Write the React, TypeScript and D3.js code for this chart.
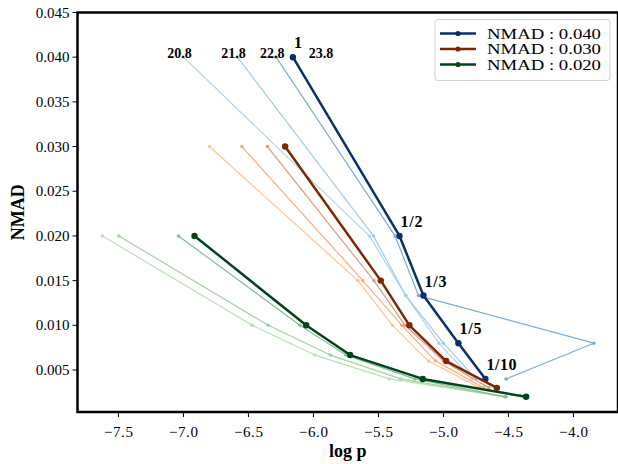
import React from 'react';
import * as d3 from 'd3';

const W = 618;
const H = 464;

// axis ticks
const xTicks = [-7.5, -7.0, -6.5, -6.0, -5.5, -5.0, -4.5, -4.0];
const yTicks = [0.005, 0.01, 0.015, 0.02, 0.025, 0.03, 0.035, 0.04, 0.045];

// ratio labels for the main blue line
const ratioLabels = ['1', '1/2', '1/3', '1/5', '1/10'];
// labels of the top points of blue lines
const topLabels = ['20.8', '21.8', '22.8', '23.8'];

// NMAD 0.040 (blue)
const blueY = [0.04, 0.02, 0.01333, 0.008, 0.004];
const blueX0 = [-7.0, -5.57, -5.29, -5.035, -4.78];
const blueX1 = [-6.585, -5.538, -5.29, -5.0, -4.75];
const blueX2 = [-6.287, -5.372, -5.192, -3.843, -4.518];
const blueX3 = [-6.158, -5.338, -5.154, -4.885, -4.677];

// NMAD 0.030 (orange)
const orangeY = [0.03, 0.015, 0.01, 0.006, 0.003];
const orangeX0 = [-6.8, -5.658, -5.392, -5.115, -4.72];
const orangeX1 = [-6.551, -5.62, -5.32, -5.06, -4.69];
const orangeX2 = [-6.354, -5.535, -5.295, -5.0, -4.65];
const orangeX3 = [-6.218, -5.482, -5.262, -4.979, -4.589];

// NMAD 0.020 (green)
const greenY = [0.02, 0.01, 0.00667, 0.004, 0.002];
const greenX0 = [-7.623, -6.471, -5.99, -5.415, -4.518];
const greenX1 = [-7.497, -6.348, -5.87, -5.328, -4.53];
const greenX2 = [-7.038, -6.104, -5.75, -5.22, -4.52];
const greenX3 = [-6.915, -6.056, -5.718, -5.159, -4.364];

const legendLabels = ['NMAD : 0.040', 'NMAD : 0.030', 'NMAD : 0.020'];

const blueColors = ['#b4d4ea', '#a0cbe4', '#78aed8', '#08306b'];
const orangeColors = ['#fdc593', '#f9ab7d', '#d99b7c', '#7f2704'];
const greenColors = ['#b8e2b1', '#9fd59e', '#82bd92', '#00441b'];

const L = 77.5, R = 618, T = 12.5, B = 412;
const FONT = '"Liberation Serif", "DejaVu Serif", serif';

export default function App() {
  const x = d3.scaleLinear().domain([-7.815, -7.815 + (R - L) / 130]).range([L, R]);
  const y = d3.scaleLinear().domain([0.0003, 0.045]).range([B, T]);
  const line = d3.line<[number, number]>().x((d) => x(d[0])).y((d) => y(d[1]));

  const groups = [
    { xs: [blueX0, blueX1, blueX2, blueX3], ys: blueY, colors: blueColors },
    { xs: [orangeX0, orangeX1, orangeX2, orangeX3], ys: orangeY, colors: orangeColors },
    { xs: [greenX0, greenX1, greenX2, greenX3], ys: greenY, colors: greenColors },
  ];

  const lights: JSX.Element[] = [];
  const mains: JSX.Element[] = [];
  groups.forEach((g, gi) => {
    g.xs.forEach((xs, li) => {
      const pts: [number, number][] = xs.map((v, i) => [v, g.ys[i]]);
      const main = li === 3;
      const el = (
        <g key={`${gi}-${li}`}>
          <path d={line(pts) || ''} fill="none" stroke={g.colors[li]} strokeWidth={main ? 2.5 : 1.2} strokeLinejoin="round" />
          {pts.map((p, i) => (
            <circle key={i} cx={x(p[0])} cy={y(p[1])} r={main ? 3.2 : 1.8} fill={g.colors[li]} />
          ))}
        </g>
      );
      (main ? mains : lights).push(el);
    });
  });

  const ratioW = [6, 22, 22, 22, 30];

  return (
    <svg width={W} height={H} style={{ position: 'absolute', left: 0, top: 0 }} fontFamily={FONT}>
      <rect x={0} y={0} width={W} height={H} fill="#fff" />
      {lights}
      {mains}
      {/* ratio labels */}
      {ratioLabels.map((t, i) => (
        <text key={t} x={x(blueX3[i]) + 1} y={y(blueY[i]) - 9} fontSize={16} fontWeight="bold" fill="#000"
          textLength={ratioW[i]} lengthAdjust="spacing">{t}</text>
      ))}
      {/* top labels */}
      {[blueX0, blueX1, blueX2].map((xs, i) => (
        <text key={i} x={x(xs[0]) - 4} y={y(blueY[0]) + 0.5} fontSize={14} fontWeight="bold" textAnchor="middle">{topLabels[i]}</text>
      ))}
      <text x={x(blueX3[0]) + 28} y={y(blueY[0]) + 0.5} fontSize={14} fontWeight="bold" textAnchor="middle">{topLabels[3]}</text>

      {/* axes */}
      {xTicks.map((t) => (
        <g key={t}>
          <line x1={x(t)} x2={x(t)} y1={B} y2={B + 5} stroke="#000" strokeWidth={1} />
          <text x={x(t)} y={B + 25} fontSize={15} textAnchor="middle" textLength={29} lengthAdjust="spacing">{'\u2212' + Math.abs(t).toFixed(1)}</text>
        </g>
      ))}
      {yTicks.map((t) => (
        <g key={t}>
          <line x1={L - 5} x2={L} y1={y(t)} y2={y(t)} stroke="#000" strokeWidth={1} />
          <text x={L - 8} y={y(t) + 5} fontSize={15} textAnchor="end">{t.toFixed(3)}</text>
        </g>
      ))}
      <rect x={L} y={T} width={R - L} height={B - T} fill="none" stroke="#000" strokeWidth={2.5} />
      <text x={(L + R) / 2} y={457} fontSize={18} fontWeight="bold" textAnchor="middle">log p</text>
      <text transform={`translate(24, ${(T + B) / 2}) rotate(-90)`} fontSize={18} fontWeight="bold" textAnchor="middle">NMAD</text>

      {/* legend */}
      <rect x={435} y={19.5} width={175} height={61} rx={3} fill="#fff" fillOpacity={0.8} stroke="#d0d0d0" strokeWidth={1} />
      {legendLabels.map((t, i) => {
        const ly = 33.5 + i * 15.5;
        const c = groups[i].colors[3];
        return (
          <g key={t}>
            <line x1={440} x2={476} y1={ly} y2={ly} stroke={c} strokeWidth={2.5} />
            <circle cx={458} cy={ly} r={2.6} fill={c} />
            <text x={487} y={ly + 5} fontSize={14.5} textLength={114} lengthAdjust="spacingAndGlyphs">{t}</text>
          </g>
        );
      })}
    </svg>
  );
}
